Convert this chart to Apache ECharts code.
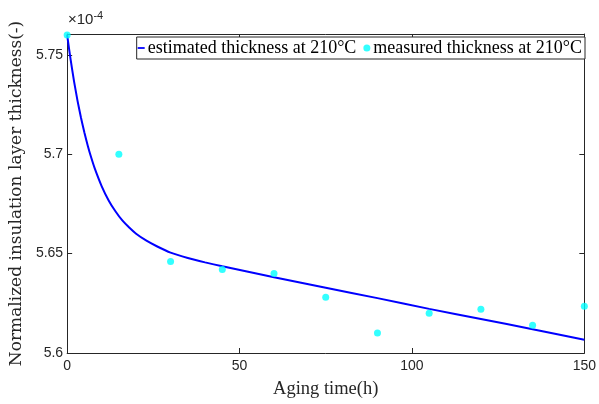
<!DOCTYPE html>
<html>
<head>
<meta charset="utf-8">
<script src="https://cdn.jsdelivr.net/npm/echarts@6/dist/echarts.min.js"></script>
<style>html,body{margin:0;padding:0;background:#fff}#c{width:599px;height:404px}</style>
</head>
<body>
<div id="c"></div>
<script>
// Estimated (fitted) curve, values in units of 1e-4
var estTime = [0, 1, 2, 3, 4, 5, 6, 7, 8, 10, 12, 14, 16, 18, 20, 23, 26, 30, 35, 40, 45, 60, 75, 90, 105, 120, 135, 150];
var estThickness = [5.760, 5.7477, 5.7367, 5.7270, 5.7185, 5.7109, 5.7042, 5.6982, 5.6929, 5.6840, 5.6769, 5.6713, 5.6667, 5.6631, 5.6600, 5.6565, 5.6537, 5.6505, 5.6478, 5.6456, 5.6436, 5.6381, 5.6328, 5.6276, 5.6222, 5.6171, 5.6120, 5.6067];
// Measured points
var measTime = [0, 15, 30, 45, 60, 75, 90, 105, 120, 135, 150];
var measThickness = [5.760, 5.700, 5.646, 5.642, 5.640, 5.628, 5.610, 5.620, 5.622, 5.614, 5.6235];
var xTicks = [0, 50, 100, 150];
var yTicks = [5.6, 5.65, 5.7, 5.75];

var estData = estTime.map(function (t, i) { return [t, estThickness[i]]; });
var measData = measTime.map(function (t, i) { return [t, measThickness[i]]; });

var axisColor = '#262626';
var serif = '"Liberation Serif", "DejaVu Serif", serif';
var serifWide = '"DejaVu Serif", "Liberation Serif", serif';
var sans = '"Liberation Sans", Arial, sans-serif';

var chart = echarts.init(document.getElementById('c'), null, {renderer: 'canvas'});
chart.setOption({
  animation: false,
  backgroundColor: '#fff',
  grid: {left: 67, right: 12, top: 34, bottom: 49, containLabel: false},
  legend: {
    right: 14, top: 37,
    orient: 'horizontal',
    itemWidth: 7, itemHeight: 7, itemGap: 7,
    padding: [2, 3, 2, 1],
    borderColor: '#262626', borderWidth: 1,
    backgroundColor: '#fff',
    textStyle: {fontFamily: serif, fontSize: 18, color: '#000', padding: [0, 0, 0, -2]},
    data: [
      {name: 'estimated thickness at 210°C', icon: 'path://M0,0 M0,7 M0,2.6 L7,2.6 L7,4.4 L0,4.4 Z'},
      {name: 'measured thickness at 210°C', icon: 'circle'}
    ]
  },
  graphic: [{
    type: 'text', left: 68, top: 10,
    style: {
      text: '{a|×10}{b|-4}',
      rich: {
        a: {fontFamily: sans, fontSize: 15, fill: axisColor},
        b: {fontFamily: sans, fontSize: 11, fill: axisColor, verticalAlign: 'top', padding: [0, 0, 8, 0]}
      }
    }
  }],
  xAxis: [{
    type: 'value', min: 0, max: 150, interval: 50,
    name: 'Aging time(h)', nameLocation: 'middle', nameGap: 27,
    nameTextStyle: {fontFamily: serif, fontSize: 18.5, color: '#262626'},
    axisLine: {show: true, lineStyle: {color: axisColor, width: 1}},
    axisTick: {show: true, inside: true, length: 5, lineStyle: {color: axisColor}},
    axisLabel: {fontFamily: sans, fontSize: 14, color: axisColor, margin: 6,
      formatter: function (v) { return xTicks.indexOf(v) >= 0 ? String(v) : ''; }},
    splitLine: {show: false}
  }, {
    type: 'value', min: 0, max: 150, interval: 50, position: 'top',
    axisLine: {show: true, onZero: false, lineStyle: {color: axisColor, width: 1}},
    axisTick: {show: true, inside: true, length: 5, lineStyle: {color: axisColor}},
    axisLabel: {show: false}, splitLine: {show: false}
  }],
  yAxis: [{
    type: 'value', min: 5.6, max: 5.7605, interval: 0.05,
    name: 'Normalized insulation layer thickness(-)', nameLocation: 'middle', nameGap: 39,
    nameRotate: 90,
    nameTextStyle: {fontFamily: serifWide, fontSize: 17, color: '#262626'},
    axisLine: {show: true, lineStyle: {color: axisColor, width: 1}},
    axisTick: {show: true, inside: true, length: 5, lineStyle: {color: axisColor}},
    axisLabel: {fontFamily: sans, fontSize: 14, color: axisColor, margin: 4, showMaxLabel: false,
      formatter: function (v) {
        for (var i = 0; i < yTicks.length; i++) { if (Math.abs(v - yTicks[i]) < 1e-9) return String(yTicks[i]); }
        return '';
      }},
    splitLine: {show: false}
  }, {
    type: 'value', min: 5.6, max: 5.7605, interval: 0.05, position: 'right',
    axisLine: {show: true, onZero: false, lineStyle: {color: axisColor, width: 1}},
    axisTick: {show: true, inside: true, length: 5, lineStyle: {color: axisColor}},
    axisLabel: {show: false}, splitLine: {show: false}
  }],
  series: [{
    name: 'estimated thickness at 210°C',
    type: 'line', data: estData, smooth: 0.2, showSymbol: false, symbol: 'none',
    lineStyle: {color: '#0000ff', width: 2}, itemStyle: {color: '#0000ff'},
    z: 2
  }, {
    name: 'measured thickness at 210°C',
    type: 'scatter', data: measData, symbol: 'circle', symbolSize: 7,
    itemStyle: {color: '#00ffff'}, z: 3
  }]
});
</script>
</body>
</html>
